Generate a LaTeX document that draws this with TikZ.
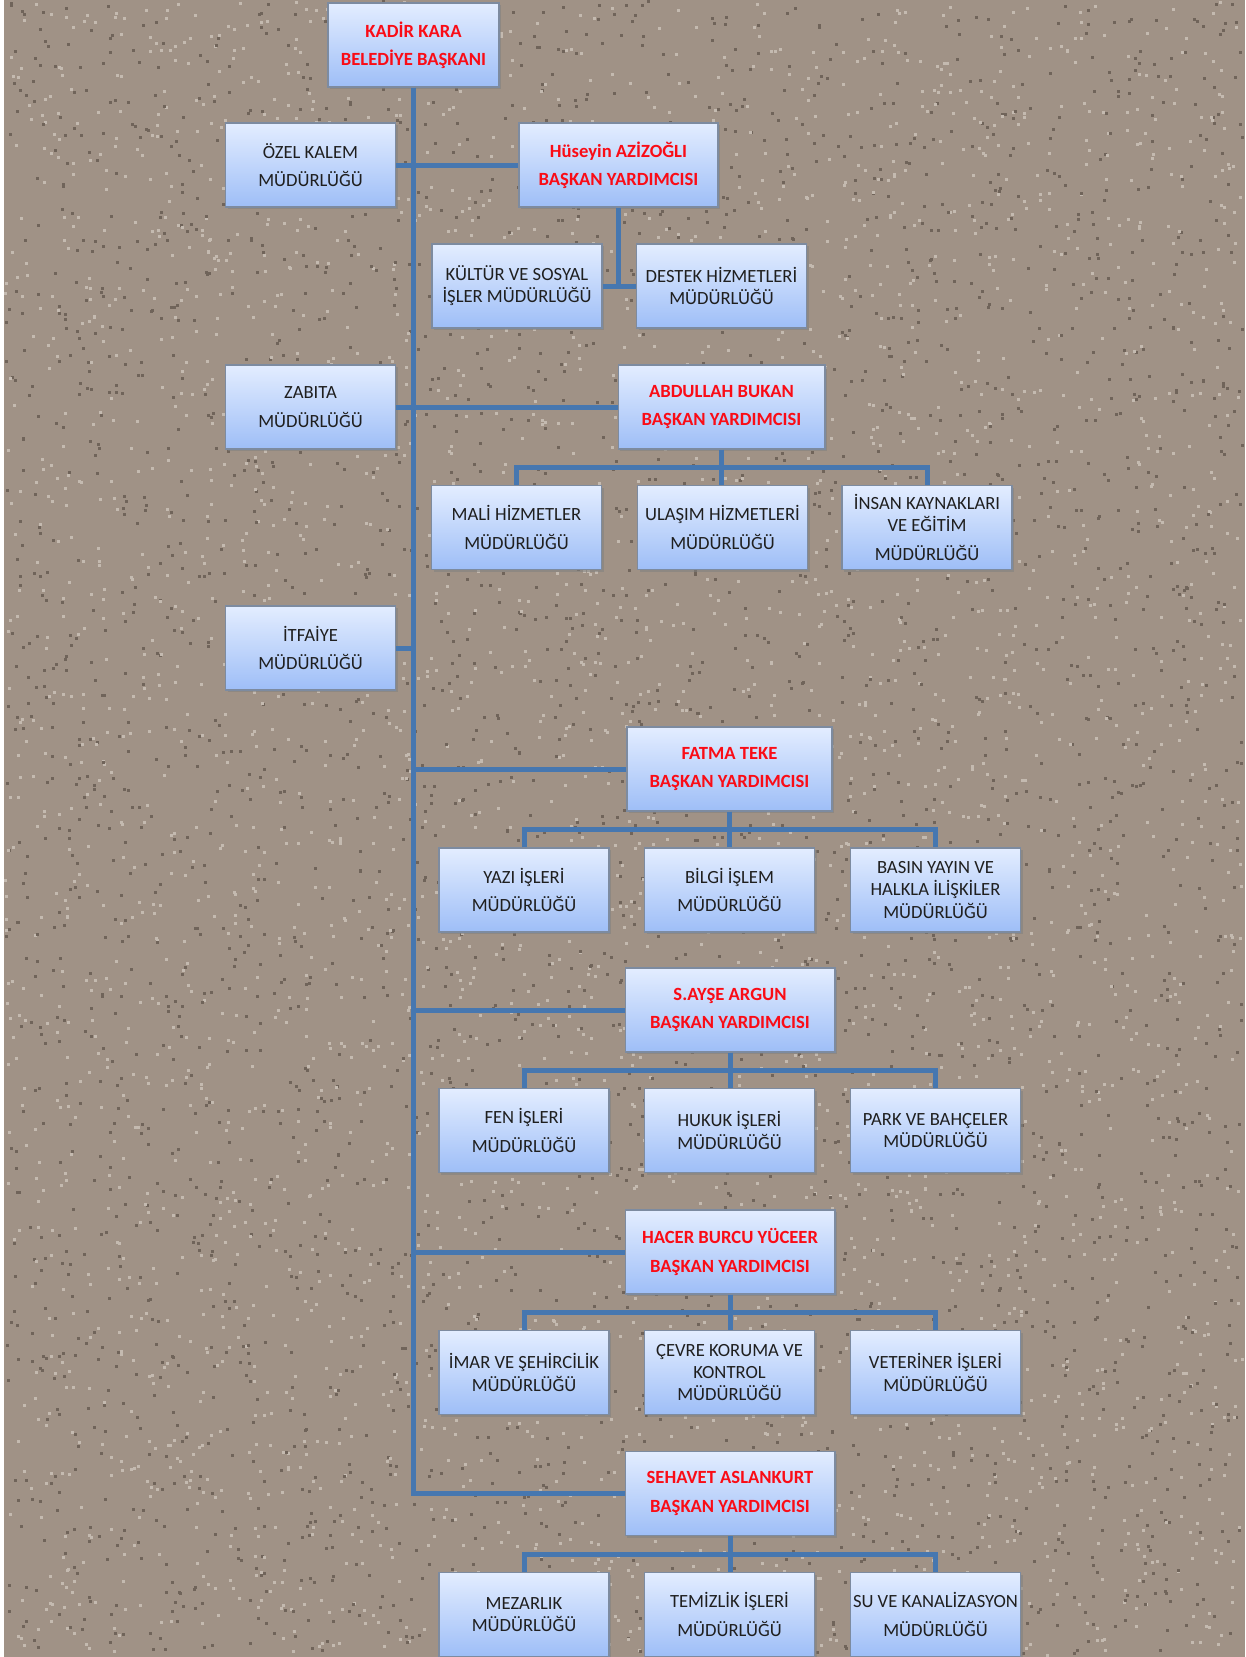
\documentclass[tikz,border=0pt]{standalone}
\usepackage{fontspec}
\setmainfont{Carlito}
\usetikzlibrary{calc,shadows}
\definecolor{zemin}{RGB}{160,146,134}
\definecolor{koyu}{RGB}{112,100,90}
\definecolor{acik}{RGB}{196,186,176}
\definecolor{kutuust}{RGB}{227,237,255}
\definecolor{kutualt}{RGB}{158,190,247}
\definecolor{kenar}{RGB}{125,139,160}
\definecolor{hat}{RGB}{70,119,176}
\definecolor{kirmizi}{RGB}{250,12,22}
\tikzset{
  birim/.style={draw=kenar, line width=0.6pt, top color=kutuust, bottom color=kutualt,
    minimum width=3.4cm, minimum height=1.68cm, inner sep=1pt, align=center,
    font=\fontsize{10.6}{12.6}\selectfont, text=black!88,
    drop shadow={shadow xshift=1.3pt, shadow yshift=-1.3pt, opacity=0.55}},
  yardimci/.style={birim, text=kirmizi, font=\fontsize{10.6}{12.6}\selectfont\bfseries},
  baglanti/.style={draw=hat, line width=0.1cm},
}
\begin{document}
\begin{tikzpicture}[x=0.02cm, y=-0.02cm]
    \useasboundingbox (0,0) rectangle (1245,1657);

    % Zemin
    \fill[white] (0,0) rectangle (1245,1657);
    \fill[zemin] (4,0) rectangle (1245,1657);
    \pgfmathsetseed{42}
    \foreach \i in {1,...,3500} {
        \fill[koyu] (4+rnd*1237, rnd*1654) rectangle ++(3,3);
        \fill[acik] (4+rnd*1237, rnd*1654) rectangle ++(3,3);
    }

    % Başkan
    \node[yardimci, minimum width=3.42cm] (baskan) at (413.5,45) {KADİR KARA\\[3.5pt]BELEDİYE BAŞKANI};

    % Sol müdürlükler
    \node[birim] (ozel) at (310.5,165) {ÖZEL KALEM\\[3.5pt]MÜDÜRLÜĞÜ};
    \node[birim] (zabita) at (310.5,407) {ZABITA\\[3.5pt]MÜDÜRLÜĞÜ};
    \node[birim] (itfaiye) at (310.5,648) {İTFAİYE\\[3.5pt]MÜDÜRLÜĞÜ};

    % Başkan yardımcıları
    \node[yardimci, minimum width=3.98cm] (huseyin) at (618.5,165) {Hüseyin AZİZOĞLI\\[3.5pt]BAŞKAN YARDIMCISI};
    \node[yardimci, minimum width=4.14cm] (abdullah) at (721.5,407) {ABDULLAH BUKAN\\[3.5pt]BAŞKAN YARDIMCISI};
    \node[yardimci, minimum width=4.1cm] (fatma) at (729.5,769) {FATMA TEKE\\[3.5pt]BAŞKAN YARDIMCISI};
    \node[yardimci, minimum width=4.2cm] (ayse) at (730,1010) {S.AYŞE ARGUN\\[3.5pt]BAŞKAN YARDIMCISI};
    \node[yardimci, minimum width=4.2cm] (hacer) at (730,1252) {HACER BURCU YÜCEER\\[3.5pt]BAŞKAN YARDIMCISI};
    \node[yardimci, minimum width=4.2cm] (sehavet) at (730,1493.5) {SEHAVET ASLANKURT\\[3.5pt]BAŞKAN YARDIMCISI};

    % Bağlı müdürlükler
    \node[birim] (kultur) at (517,286) {KÜLTÜR VE SOSYAL\\İŞLER MÜDÜRLÜĞÜ};
    \node[birim] (destek) at (721.5,286) {DESTEK HİZMETLERİ\\MÜDÜRLÜĞÜ};

    \node[birim] (mali) at (516.5,527.5) {MALİ HİZMETLER\\[3.5pt]MÜDÜRLÜĞÜ};
    \node[birim] (ulasim) at (722.5,527.5) {ULAŞIM HİZMETLERİ\\[3.5pt]MÜDÜRLÜĞÜ};
    \node[birim] (insan) at (927,527.5) {İNSAN KAYNAKLARI\\VE EĞİTİM\\[3.5pt]MÜDÜRLÜĞÜ};

    \node[birim] (yazi) at (524,890) {YAZI İŞLERİ\\[3.5pt]MÜDÜRLÜĞÜ};
    \node[birim] (bilgi) at (729.5,890) {BİLGİ İŞLEM\\[3.5pt]MÜDÜRLÜĞÜ};
    \node[birim] (basin) at (935.5,890) {BASIN YAYIN VE\\HALKLA İLİŞKİLER\\MÜDÜRLÜĞÜ};

    \node[birim] (fen) at (524,1130.5) {FEN İŞLERİ\\[3.5pt]MÜDÜRLÜĞÜ};
    \node[birim] (hukuk) at (729.5,1130.5) {HUKUK İŞLERİ\\MÜDÜRLÜĞÜ};
    \node[birim] (park) at (935.5,1130.5) {PARK VE BAHÇELER\\MÜDÜRLÜĞÜ};

    \node[birim] (imar) at (524,1372.5) {İMAR VE ŞEHİRCİLİK\\MÜDÜRLÜĞÜ};
    \node[birim] (cevre) at (729.5,1372.5) {ÇEVRE KORUMA VE\\KONTROL\\MÜDÜRLÜĞÜ};
    \node[birim] (veteriner) at (935.5,1372.5) {VETERİNER İŞLERİ\\MÜDÜRLÜĞÜ};

    \node[birim] (mezarlik) at (524,1614.5) {MEZARLIK\\MÜDÜRLÜĞÜ};
    \node[birim] (temizlik) at (729.5,1614.5) {TEMİZLİK İŞLERİ\\[3.5pt]MÜDÜRLÜĞÜ};
    \node[birim] (su) at (935.5,1614.5) {SU VE KANALİZASYON\\[3.5pt]MÜDÜRLÜĞÜ};

    % Ana gövde
    \draw[baglanti] (baskan.south) |- (sehavet.west);
    \draw[baglanti] (ozel.east) -- (huseyin.west);
    \draw[baglanti] (zabita.east) -- (abdullah.west);
    \draw[baglanti] (itfaiye.east) -- (itfaiye.east -| baskan.south);
    \foreach \y in {fatma, ayse, hacer}
        \draw[baglanti] (\y.west) -- (\y.west -| baskan.south);

    % Yardımcılara bağlı birimler
    \draw[baglanti] (huseyin.south) -- (huseyin.south |- kultur.east);
    \draw[baglanti] (kultur.east) -- (destek.west);
    \foreach \y/\a/\b/\c in {abdullah/mali/ulasim/insan, fatma/yazi/bilgi/basin,
        ayse/fen/hukuk/park, hacer/imar/cevre/veteriner, sehavet/mezarlik/temizlik/su} {
        \draw[baglanti] (\y.south) -- (\y.south |- \b.north);
        \draw[baglanti] (\a.north) |- ($(\y.south)!0.5!(\b.north)$) -| (\c.north);
    }
\end{tikzpicture}
\end{document}
